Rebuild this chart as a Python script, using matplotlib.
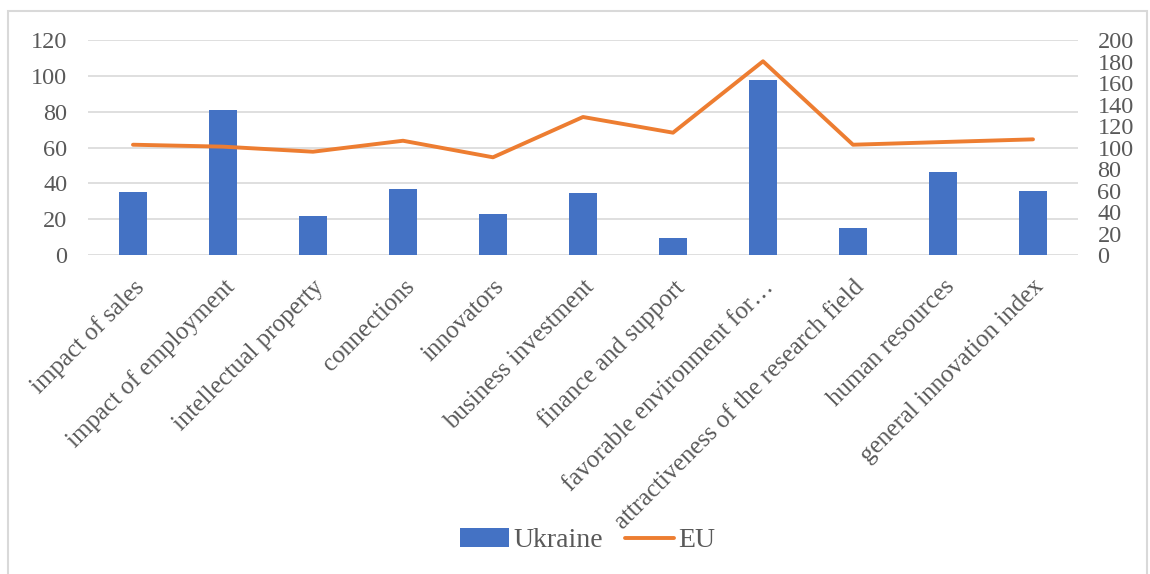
import numpy as np
import matplotlib
matplotlib.use('Agg')
import matplotlib.pyplot as plt
from matplotlib.patches import Rectangle

plt.rcParams['font.family'] = ['Liberation Serif', 'DejaVu Serif']

categories = ['impact of sales', 'impact of employment', 'intellectual property',
              'connections', 'innovators', 'business investment',
              'finance and support', 'favorable environment for…',
              'attractiveness of the research field', 'human resources',
              'general innovation index']
ukraine = [35.2, 80.7, 21.9, 36.7, 22.7, 34.4, 9.3, 97.9, 14.9, 46.5, 35.9]
eu = [102.6, 100.8, 96.1, 106.3, 90.9, 128.4, 113.8, 180.2, 102.6, 105.1, 107.6]
left_ticks = [0, 20, 40, 60, 80, 100, 120]
right_ticks = [0, 20, 40, 60, 80, 100, 120, 140, 160, 180, 200]

text_grey = '#595959'
grid_grey = '#d9d9d9'

fig = plt.figure(figsize=(11.5, 5.74), dpi=100)
ax = fig.add_axes([0.0765, 0.5557, 0.8609, 0.3746])
ax2 = ax.twinx()

x = np.arange(len(categories))
ax.bar(x, ukraine, width=0.31, color='#4472C4', label='Ukraine', zorder=2)
ax2.plot(x, eu, color='#ED7D31', lw=2.8, solid_capstyle='round', label='EU', zorder=3)

ax.set_xlim(-0.5, len(categories) - 0.5)
ax.set_ylim(0, 120)
ax2.set_ylim(0, 200)
ax.set_yticks(left_ticks)
ax2.set_yticks(right_ticks)
ax.yaxis.grid(True, color=grid_grey, lw=1.2, zorder=0)
ax.set_axisbelow(True)

for a in (ax, ax2):
    for s in a.spines.values():
        s.set_visible(False)
    a.tick_params(length=0, colors=text_grey, labelsize=17.5)
ax.tick_params(axis='y', pad=15)
ax2.tick_params(axis='y', pad=14)

ax.set_xticks(x)
ax.set_xticklabels(categories)
ax.tick_params(axis='x', pad=15, labelsize=18)
for lbl in ax.get_xticklabels():
    lbl.set_rotation(45)
    lbl.set_ha('right')
    lbl.set_rotation_mode('anchor')

h1, l1 = ax.get_legend_handles_labels()
h2, l2 = ax2.get_legend_handles_labels()
fig.legend(h1 + h2, l1 + l2, loc='center', bbox_to_anchor=(0.511, 0.058),
           ncol=2, frameon=False, fontsize=20, labelcolor=text_grey,
           handlelength=1.76, handletextpad=0.15, columnspacing=0.8)

fig.patches.append(Rectangle((0.007, -0.01), 0.99, 0.99, transform=fig.transFigure,
                             fill=False, edgecolor=grid_grey, lw=1.5))

fig.savefig('out.png', dpi=100)
